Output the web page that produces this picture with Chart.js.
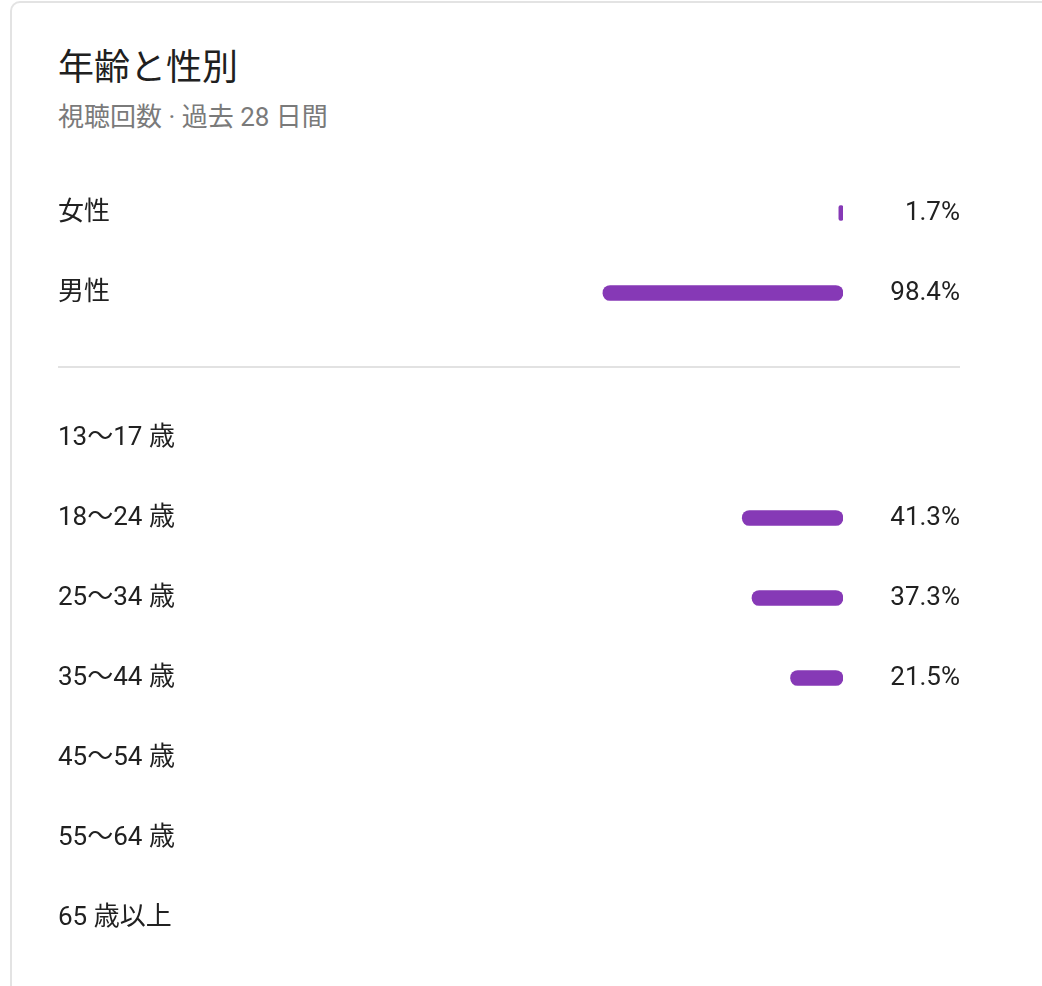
<!DOCTYPE html>
<html lang="ja">
<head>
<meta charset="utf-8">
<script src="https://cdn.jsdelivr.net/npm/chart.js@4"></script>
<style>
  html, body { margin: 0; padding: 0; background: #fff; width: 1042px; height: 986px; overflow: hidden; }
  .card { position: absolute; left: 10px; top: 1px; width: 1100px; height: 1100px; border: 2px solid #e3e3e3; border-radius: 10px; box-sizing: border-box; }
  .title { position: absolute; left: 58px; top: 46px; font: 400 36px/44px Roboto, "Noto Sans CJK JP", sans-serif; color: #202020; white-space: nowrap; }
  .sub { position: absolute; left: 58px; top: 101px; font: 400 26px/32px Roboto, "Noto Sans CJK JP", sans-serif; color: #7a7a7a; white-space: nowrap; }
  .divider { position: absolute; left: 58px; top: 366px; width: 902px; height: 2px; background: #e2e2e2; }
  canvas { position: absolute; left: 58px; }
</style>
</head>
<body>
<div class="card"></div>
<div class="title">年齢と性別</div>
<div class="sub">視聴回数 · 過去 28 日間</div>
<div class="divider"></div>
<canvas id="gender" style="top:173px;width:902px;height:160px"></canvas>
<canvas id="age" style="top:398px;width:902px;height:560px"></canvas>
<script>
const genderLabels = ['女性', '男性'];
const genderValues = [1.7, 98.4];
const ageLabels = ['13～17 歳', '18～24 歳', '25～34 歳', '35～44 歳', '45～54 歳', '55～64 歳', '65 歳以上'];
const ageValues = [null, 41.3, 37.3, 21.5, null, null, null];

const FONT = 'Roboto, "Noto Sans CJK JP", sans-serif';
const BAR = '#8639b6';

function pct(values) {
  return values.map(v => (v === null || v === undefined) ? '' : v.toFixed(1) + '%');
}

function fitAxis(width) {
  return s => { s.width = width; s.paddingTop = 0; s.paddingBottom = 0; };
}

function makeChart(id, labels, values, w, h) {
  const cv = document.getElementById(id);
  cv.width = w; cv.height = h;
  return new Chart(cv, {
    type: 'bar',
    data: {
      labels: labels,
      datasets: [{
        data: values,
        backgroundColor: BAR,
        borderWidth: 0,
        borderRadius: 8,
        borderSkipped: false,
        barThickness: 15,
        yAxisID: 'y'
      }]
    },
    options: {
      indexAxis: 'y',
      responsive: false,
      maintainAspectRatio: false,
      animation: false,
      events: [],
      layout: { padding: 0 },
      plugins: { legend: { display: false }, tooltip: { enabled: false }, title: { display: false } },
      scales: {
        x: { display: false, reverse: true, min: 0, max: 100 },
        y: {
          type: 'category',
          position: 'left',
          grid: { display: false, drawTicks: false },
          border: { display: false },
          ticks: { crossAlign: 'far', padding: 0, color: '#212121', font: { family: FONT, size: 26 } },
          afterFit: fitAxis(541)
        },
        y2: {
          type: 'category',
          position: 'right',
          labels: pct(values),
          grid: { display: false, drawTicks: false },
          border: { display: false },
          ticks: { crossAlign: 'far', padding: 0, color: '#212121', font: { family: FONT, size: 26 } },
          afterFit: fitAxis(117)
        }
      }
    }
  });
}

makeChart('gender', genderLabels, genderValues, 902, 160);
makeChart('age', ageLabels, ageValues, 902, 560);
</script>
</body>
</html>
